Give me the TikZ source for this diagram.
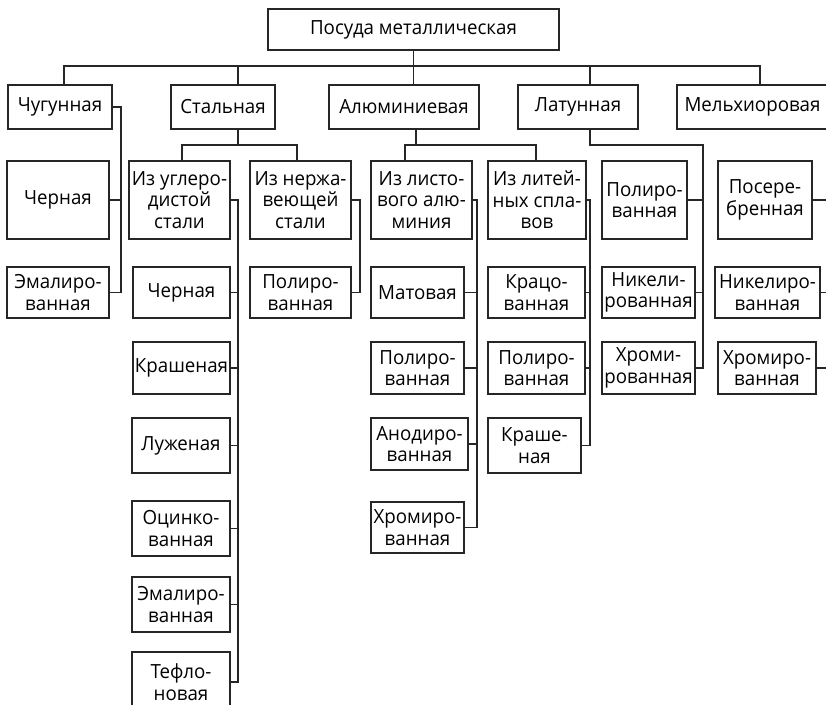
\documentclass[tikz,border=0pt]{standalone}
\usepackage{fontspec}
\setmainfont{Open Sans}[FakeStretch=0.96]
\begin{document}
\begin{tikzpicture}[x=1pt,y=-1pt,
  box/.style={draw=black!85, line width=1.2pt, inner sep=0pt, align=center,
    font=\fontsize{19.5}{21.5}\selectfont, text=black},
  ln/.style={draw=black!85, line width=1.2pt}]
\clip (0,0) rectangle (826,704);
\fill[white] (0,0) rectangle (826,704);
\newcommand\bx[6]{\node[box, minimum width={(#4)-(#2)}, minimum height={(#5)-(#3)}] (#1) at ({((#2)+(#4))/2},{((#3)+(#5))/2}) {#6};}
% level 0 / 1
\bx{top}{268}{9}{559}{50}{Посуда металлическая}
\bx{chug}{8}{85}{112}{129}{Чугунная}
\bx{st}{171}{85}{275}{129}{Стальная}
\bx{al}{329}{85}{479}{129}{Алюминиевая}
\bx{lat}{518}{85}{638}{129}{Латунная}
\bx{mel}{677}{85}{828}{129}{Мельхиоровая}
% level 2
\bx{chugA}{7}{161}{109}{239}{Черная}
\bx{chugB}{7}{267}{109}{318}{Эмалиро-\\ванная}
\bx{carb}{129}{161}{230}{239}{Из углеро-\\дистой\\стали}
\bx{stain}{250}{161}{351}{239}{Из нержа-\\веющей\\стали}
\bx{sheet}{371}{161}{472}{239}{Из листо-\\вого алю-\\миния}
\bx{cast}{488}{161}{586}{239}{Из литей-\\ных спла-\\вов}
\bx{latA}{602}{161}{687}{239}{Полиро-\\ванная}
\bx{melA}{718}{161}{812}{239}{Посере-\\бренная}
% row 267
\bx{carbA}{133}{267}{230}{318}{Черная}
\bx{stainA}{250}{267}{351}{318}{Полиро-\\ванная}
\bx{sheetA}{371}{267}{464}{318}{Матовая}
\bx{castA}{488}{267}{585}{318}{Крацо-\\ванная}
\bx{latB}{602}{267}{695}{318}{Никели-\\рованная}
\bx{melB}{715}{267}{820}{318}{Никелиро-\\ванная}
% row 342
\bx{carbB}{133}{342}{230}{394}{Крашеная}
\bx{sheetB}{371}{342}{464}{394}{Полиро-\\ванная}
\bx{castB}{488}{342}{585}{394}{Полиро-\\ванная}
\bx{latC}{602}{342}{695}{394}{Хроми-\\рованная}
\bx{melC}{718}{342}{816}{394}{Хромиро-\\ванная}
% row 418
\bx{carbC}{132}{418}{230}{473}{Луженая}
\bx{sheetC}{371}{418}{468}{470}{Анодиро-\\ванная}
\bx{castC}{488}{418}{581}{473}{Краше-\\ная}
% row 501
\bx{carbD}{132}{501}{230}{556}{Оцинко-\\ванная}
\bx{sheetD}{371}{502}{464}{553}{Хромиро-\\ванная}
% lower
\bx{carbE}{132}{577}{230}{632}{Эмалиро-\\ванная}
\bx{carbF}{132}{652}{230}{712}{Тефло-\\новая}
% bus coordinates
\coordinate (b1) at (64,66);
\coordinate (b2) at (238,66);
\coordinate (b3) at (413,66);
\coordinate (b4) at (590,66);
\coordinate (b5) at (760,66);
\coordinate (s1) at (182,145);
\coordinate (s2) at (297,145);
\coordinate (s0) at (238,145);
\coordinate (a0) at (416,145);
\coordinate (a1) at (405,145);
\coordinate (a2) at (536,145);
\coordinate (l0) at (590,145);
\coordinate (l1) at (703,145);
\coordinate (vC) at (121,0);
\coordinate (vS) at (238,0);
\coordinate (vN) at (360,0);
\coordinate (vL) at (477,0);
\coordinate (vK) at (590,0);
\coordinate (vR) at (840,0);
% main bus
\draw[ln] (top.south) -- (top.south |- al.north);
\draw[ln] (b1 |- chug.north) -- (b1) -- (b5) -- (b5 |- mel.north);
\draw[ln] (b2) -- (b2 |- st.north);
\draw[ln] (b4) -- (b4 |- lat.north);
% steel
\draw[ln] (s0 |- st.south) -- (s0);
\draw[ln] (s1 |- carb.north) -- (s1) -- (s2) -- (s2 |- stain.north);
% aluminium
\draw[ln] (a0 |- al.south) -- (a0);
\draw[ln] (a1 |- sheet.north) -- (a1) -- (a2) -- (a2 |- cast.north);
% brass
\draw[ln] (l0 |- lat.south) -- (l0) -- (l1) -- (l1 |- latC.east) -- (latC.east);
\foreach \n in {latA,latB} \draw[ln] (\n.east) -- (\n.east -| l1);
% cast iron
\draw[ln] (chug.east) -- (chug.east -| vC) -- (chugB.east -| vC) -- (chugB.east);
\draw[ln] (chugA.east) -- (chugA.east -| vC);
% carbon steel
\draw[ln] (carb.east) -- (carb.east -| vS) -- (carbF.east -| vS) -- (carbF.east);
\foreach \n in {carbA,carbB,carbC,carbD,carbE} \draw[ln] (\n.east) -- (\n.east -| vS);
% stainless
\draw[ln] (stain.east) -- (stain.east -| vN) -- (stainA.east -| vN) -- (stainA.east);
% sheet aluminium
\draw[ln] (sheet.east) -- (sheet.east -| vL) -- (sheetD.east -| vL) -- (sheetD.east);
\foreach \n in {sheetA,sheetB,sheetC} \draw[ln] (\n.east) -- (\n.east -| vL);
% cast alloys
\draw[ln] (cast.east) -- (cast.east -| vK) -- (castC.east -| vK) -- (castC.east);
\foreach \n in {castA,castB} \draw[ln] (\n.east) -- (\n.east -| vK);
% cupronickel
\foreach \n in {melA,melB,melC} \draw[ln] (\n.east) -- (\n.east -| vR);
\end{tikzpicture}
\end{document}
